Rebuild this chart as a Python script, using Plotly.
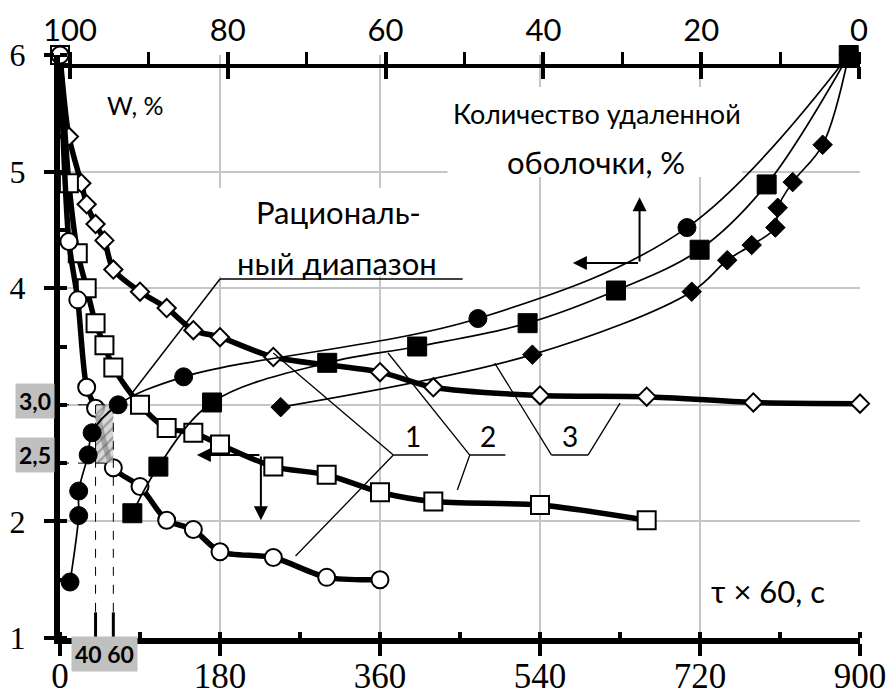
import plotly.graph_objects as go

# ---- bottom axis: processing time tau x 60, s (thick curves, open markers) ----
t_circle = [0, 10, 20, 30, 40, 60, 90, 120, 150, 180, 240, 300, 360]
y_circle = [6.0, 4.40, 3.90, 3.15, 2.97, 2.46, 2.30, 2.01, 1.93, 1.74, 1.69, 1.52, 1.50]

t_square = [0, 10, 20, 30, 40, 50, 60, 90, 120, 150, 180, 240, 300, 360, 420, 540, 660]
y_square = [6.0, 4.90, 4.30, 4.00, 3.70, 3.51, 3.32, 3.00, 2.80, 2.76, 2.66, 2.47, 2.40,
            2.25, 2.17, 2.14, 2.01]

t_diamond = [0, 10, 24, 30, 40, 50, 60, 90, 120, 150, 180, 240, 360, 420, 540, 660, 780, 900]
y_diamond = [6.0, 5.30, 4.90, 4.72, 4.55, 4.41, 4.16, 3.97, 3.83, 3.64, 3.58, 3.41, 3.28,
             3.15, 3.08, 3.07, 3.02, 3.01]

# ---- top axis: W, % (thin curves, filled markers) ----
w_circle = [100.0, 98.9, 98.9, 97.7, 97.2, 93.9, 85.6, 48.3, 21.8, 1.3]
v_circle = [1.48, 2.05, 2.26, 2.57, 2.76, 3.00, 3.24, 3.74, 4.52, 6.0]

w_square = [92.1, 88.8, 82.0, 67.4, 56.0, 42.0, 30.8, 20.2, 11.7, 1.3]
v_square = [2.07, 2.47, 3.02, 3.36, 3.50, 3.70, 3.98, 4.33, 4.89, 6.0]

w_diamond = [73.3, 41.4, 21.2, 16.7, 13.6, 10.6, 10.3, 8.4, 4.6, 1.3]
v_diamond = [2.98, 3.43, 3.97, 4.24, 4.37, 4.52, 4.69, 4.91, 5.23, 6.0]

# rational range: time 40...60, level 2.5...3.0
range_t = [40, 60]
range_y = [2.5, 3.0]

x_ticks = [0, 180, 360, 540, 720, 900]
y_ticks = [1, 2, 3, 4, 5, 6]
y_ticktext = ["1", "2", "", "4", "5", "6"]
w_ticks = [100, 80, 60, 40, 20, 0]

SERIF = "Liberation Serif, Times New Roman, serif"
SANS = "Lato, Carlito, Noto Sans, sans-serif"
GRID = "#c6c6c6"

fig = go.Figure()

# thin curves (top axis)
for w, v, sym, sz in [(w_circle, v_circle, "circle", 18),
                      (w_square, v_square, "square", 19),
                      (w_diamond, v_diamond, "diamond", 15)]:
    fig.add_trace(go.Scatter(
        x=w, y=v, xaxis="x2", yaxis="y", mode="lines+markers",
        line=dict(color="black", width=1.7, shape="spline", smoothing=1.0),
        marker=dict(symbol=sym, size=sz, color="black", line=dict(color="black", width=1)),
        cliponaxis=False, showlegend=False, hoverinfo="skip"))

# thick curves (bottom axis)
for t, y, sym, sz in [(t_diamond, y_diamond, "diamond", 14),
                      (t_square, y_square, "square", 18),
                      (t_circle, y_circle, "circle", 17)]:
    fig.add_trace(go.Scatter(
        x=t, y=y, xaxis="x", yaxis="y", mode="lines+markers",
        line=dict(color="black", width=5.5, shape="spline", smoothing=0.8),
        marker=dict(symbol=sym, size=sz, color="white", line=dict(color="black", width=2)),
        cliponaxis=False, showlegend=False, hoverinfo="skip"))

# hatched rational range
fig.add_trace(go.Scatter(
    x=[range_t[0], range_t[1], range_t[1], range_t[0], range_t[0]],
    y=[range_y[0], range_y[0], range_y[1], range_y[1], range_y[0]],
    mode="lines", fill="toself", line=dict(width=0, color="rgba(0,0,0,0)"),
    fillpattern=dict(shape="/", fgcolor="#5a5a5a", bgcolor="rgba(205,205,205,0.8)",
                     size=7, solidity=0.3),
    showlegend=False, hoverinfo="skip"))

# helper axis for the inner half of the top major ticks
fig.add_trace(go.Scatter(x=[None], y=[None], xaxis="x3", yaxis="y",
                         showlegend=False, hoverinfo="skip"))

shapes = []
# white boxes behind captions (hide grid)
shapes.append(dict(type="rect", xref="x", yref="y", x0=436, x1=767, y0=4.954, y1=5.726,
                   fillcolor="white", line=dict(width=0), layer="between"))
shapes.append(dict(type="rect", xref="x", yref="y", x0=171, x1=461, y0=4.10, y1=4.86,
                   fillcolor="white", line=dict(width=0), layer="between"))


def seg(x0, y0, x1, y1, width=1.3, dash="solid", color="black"):
    shapes.append(dict(type="line", xref="x", yref="y", x0=x0, y0=y0, x1=x1, y1=y1,
                       line=dict(color=color, width=width, dash=dash), layer="above"))


# rational range: underline and leader
seg(180, 4.079, 453, 4.079, width=1.5)
seg(180, 4.079, 82, 3.11, width=1.5)

# dashed guides to the axes
seg(0, range_y[1], range_t[1], range_y[1], width=1, dash="dash")
seg(0, range_y[0], range_t[1], range_y[0], width=1, dash="dash")
seg(range_t[0], range_y[1], range_t[0], 1.22, width=1, dash="dash")
seg(range_t[1], range_y[1], range_t[1], 1.22, width=1, dash="dash")
seg(range_t[0], 1.0, range_t[0], 1.22, width=3)
seg(range_t[1], 1.0, range_t[1], 1.22, width=3)

# curve labels 1, 2, 3 with leaders
seg(375, 2.569, 414, 2.569, width=2, color="#444")
seg(375, 2.569, 240, 3.444)
seg(375, 2.569, 265, 1.703)
seg(461, 2.569, 501, 2.569, width=2, color="#444")
seg(461, 2.569, 369, 3.444)
seg(461, 2.569, 447, 2.269)
seg(553, 2.569, 594, 2.569, width=2, color="#444")
seg(553, 2.569, 489, 3.358)
seg(594, 2.569, 630, 3.015)

annotations = []


def txt(x, y, text, size, family=SANS, xref="x", yref="y", **kw):
    annotations.append(dict(x=x, y=y, xref=xref, yref=yref, text=text, showarrow=False,
                            font=dict(family=family, size=size, color="black"), **kw))


def arrow(x0, y0, x1, y1):
    annotations.append(dict(x=x1, y=y1, ax=x0, ay=y0, xref="x", yref="y", axref="x",
                            ayref="y", text="", showarrow=True, arrowhead=2,
                            arrowsize=1.4, arrowwidth=2, arrowcolor="black", standoff=0))


txt(85, 5.57, "W, %", 25)
txt(604, 5.50, "Количество удаленной", 27)
txt(603, 5.08, "оболочки, %", 31)
txt(313, 4.655, "Рациональ-", 31)
txt(312, 4.215, "ный диапазон", 31)
txt(397, 2.73, "1", 28)
txt(482, 2.73, "2", 28)
txt(574, 2.73, "3", 28)
txt(796, 1.40, "τ × 60, с", 31)

# axis-hint arrows
arrow(652, 4.216, 652, 4.78)
arrow(652, 4.216, 577, 4.216)
arrow(226, 2.569, 154, 2.569)
arrow(226, 2.569, 226, 2.01)

# highlighted values of the rational range
txt(-0.031, range_y[1], "<b>3,0</b>", 23, xref="paper", xanchor="center",
    bgcolor="#c0c0c0", borderpad=3, yshift=4)
txt(-0.031, range_y[0], "<b>2,5</b>", 23, xref="paper", xanchor="center",
    bgcolor="#c0c0c0", borderpad=3, yshift=8)
txt(sum(range_t) / 2, -0.028, "<b>40 60</b>", 23, yref="paper", xanchor="center",
    yanchor="middle", bgcolor="#c0c0c0", borderpad=3)

fig.update_layout(
    width=888, height=696,
    margin=dict(l=60, r=28, t=55, b=58),
    paper_bgcolor="white", plot_bgcolor="white",
    showlegend=False,
    shapes=shapes, annotations=annotations,
    xaxis=dict(
        range=[0, 900], tickvals=x_ticks, showgrid=True, gridcolor=GRID, gridwidth=1.5,
        zeroline=False, showline=True, linecolor="black", linewidth=6,
        ticks="outside", ticklen=12, tickwidth=4, tickcolor="black",
        minor=dict(dtick=90, tick0=0, ticks="inside", ticklen=6, tickwidth=4,
                   tickcolor="black", showgrid=False),
        tickfont=dict(family=SERIF, size=35, color="black"),
        ticklabelstandoff=-10, automargin=False),
    yaxis=dict(
        range=[1, 6], tickvals=y_ticks, ticktext=y_ticktext, showgrid=True,
        gridcolor=GRID, gridwidth=1.5, zeroline=False, showline=True, linecolor="black",
        linewidth=6, ticks="outside", ticklen=10, tickwidth=4, tickcolor="black",
        minor=dict(dtick=0.5, tick0=1, ticks="inside", ticklen=7, tickwidth=4,
                   tickcolor="black", showgrid=False),
        tickfont=dict(family=SERIF, size=32, color="black"),
        ticklabelstandoff=12, automargin=False),
    xaxis2=dict(
        overlaying="x", side="top", anchor="free", position=0.981,
        range=[101.27, -0.13], tickvals=w_ticks, showgrid=False, zeroline=False,
        showline=True, linecolor="black", linewidth=4,
        ticks="outside", ticklen=12, tickwidth=4, tickcolor="black",
        minor=dict(dtick=10, tick0=0, ticks="outside", ticklen=12, tickwidth=3,
                   tickcolor="black", showgrid=False),
        tickfont=dict(family=SANS, size=31, color="black"),
        ticklabelstandoff=-1, automargin=False),
    xaxis3=dict(
        overlaying="x", side="top", anchor="free", position=0.981,
        range=[101.27, -0.13], tickvals=w_ticks, showgrid=False, zeroline=False,
        showline=False, showticklabels=False,
        ticks="inside", ticklen=12, tickwidth=4, tickcolor="black", automargin=False),
)

fig.write_html("out.html")
